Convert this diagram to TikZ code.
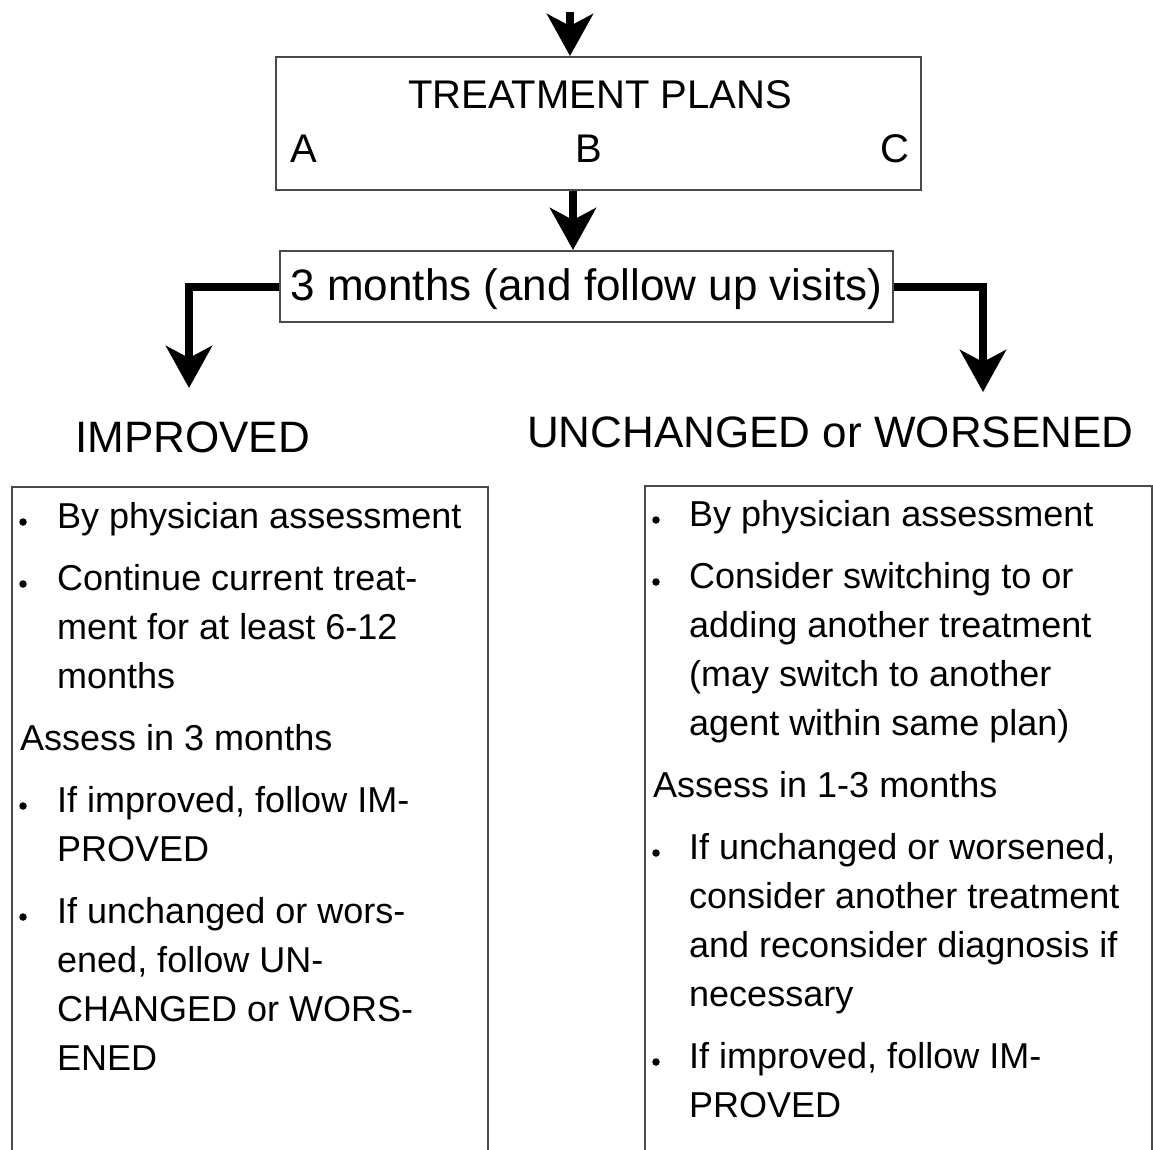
\documentclass[tikz,border=0pt]{standalone}
\usepackage{fontspec}
\setmainfont{Liberation Sans}
\usetikzlibrary{arrows.meta}
\definecolor{boxgray}{HTML}{4A4A4A}
\begin{document}
\begin{tikzpicture}[x=1pt,y=-1pt,
  box/.style={draw=boxgray, line width=2pt, inner sep=0pt},
  body/.style={font=\fontsize{36}{36}\selectfont, anchor=base west, inner sep=0pt},
  head/.style={font=\fontsize{44}{44}\selectfont, anchor=base west, inner sep=0pt},
  plan/.style={font=\fontsize{40}{40}\selectfont, inner sep=0pt},
  bul/.style={circle, fill=black, inner sep=0pt, minimum size=7.5pt},
  flow/.style={line width=8pt, line join=miter,
    -{Stealth[length=42pt,width=46pt,inset=12pt]}}]
\useasboundingbox (0,0) rectangle (1153,1149);
\clip (0,0) rectangle (1153,1149);

% top box
\node[box, minimum width=645pt, minimum height=133pt] (plans) at (598.5,123.5) {};
\node[plan, anchor=base] (tp) at (600,108) {TREATMENT PLANS};
\node[plan, anchor=base west] (pa) at (290,162) {A};
\node[plan, anchor=base west] (pb) at (575,162) {B};
\node[plan, anchor=base west] (pc) at (880,162) {C};

% months box
\node[box, minimum width=613pt, minimum height=71pt,
  font=\fontsize{44}{44}\selectfont, text height=49pt, text depth=22pt]
  (months) at (586.5,286.5) {3 months (and follow up visits)};

% arrows
\coordinate (start) at (570,12);
\coordinate (mid) at (573,0);
\coordinate (lt) at (189,388);
\coordinate (rt) at (983,392);
\draw[flow] (start) -- (start |- plans.north);
\draw[flow] (plans.south -| mid) -- (months.north -| mid);
\draw[flow] (months.west) -| (lt);
\draw[flow] (months.east) -| (rt);

% headers
\node[head] (imp) at (75,452) {IMPROVED};
\node[head] (unc) at (527,447) {UNCHANGED or WORSENED};

% outcome boxes
\node[box, anchor=north west, minimum width=476pt, minimum height=720pt] (lbox) at (11,486) {};
\node[box, anchor=north west, minimum width=507pt, minimum height=720pt] (rbox) at (644,485) {};

% left box text
\node[bul] (lb1) at (23,522) {};
\node[body] (l1) at (57,528) {By physician assessment};
\node[bul] (lb2) at (23,584) {};
\node[body] (l2) at (57,590) {Continue current treat-};
\node[body] (l3) at (57,639) {ment for at least 6-12};
\node[body] (l4) at (57,688) {months};
\node[body] (l5) at (20,750) {Assess in 3 months};
\node[bul] (lb3) at (23,806) {};
\node[body] (l6) at (57,812) {If improved, follow IM-};
\node[body] (l7) at (57,861) {PROVED};
\node[bul] (lb4) at (23,917) {};
\node[body] (l8) at (57,923) {If unchanged or wors-};
\node[body] (l9) at (57,972) {ened, follow UN-};
\node[body] (l10) at (57,1021) {CHANGED or WORS-};
\node[body] (l11) at (57,1070) {ENED};

% right box text
\node[bul] (rb1) at (656,520) {};
\node[body] (r1) at (689,526) {By physician assessment};
\node[bul] (rb2) at (656,582) {};
\node[body] (r2) at (689,588) {Consider switching to or};
\node[body] (r3) at (689,637) {adding another treatment};
\node[body] (r4) at (689,686) {(may switch to another};
\node[body] (r5) at (689,735) {agent within same plan)};
\node[body] (r6) at (653,797) {Assess in 1-3 months};
\node[bul] (rb3) at (656,853) {};
\node[body] (r7) at (689,859) {If unchanged or worsened,};
\node[body] (r8) at (689,908) {consider another treatment};
\node[body] (r9) at (689,957) {and reconsider diagnosis if};
\node[body] (r10) at (689,1006) {necessary};
\node[bul] (rb4) at (656,1062) {};
\node[body] (r11) at (689,1068) {If improved, follow IM-};
\node[body] (r12) at (689,1117) {PROVED};
\end{tikzpicture}
\end{document}
